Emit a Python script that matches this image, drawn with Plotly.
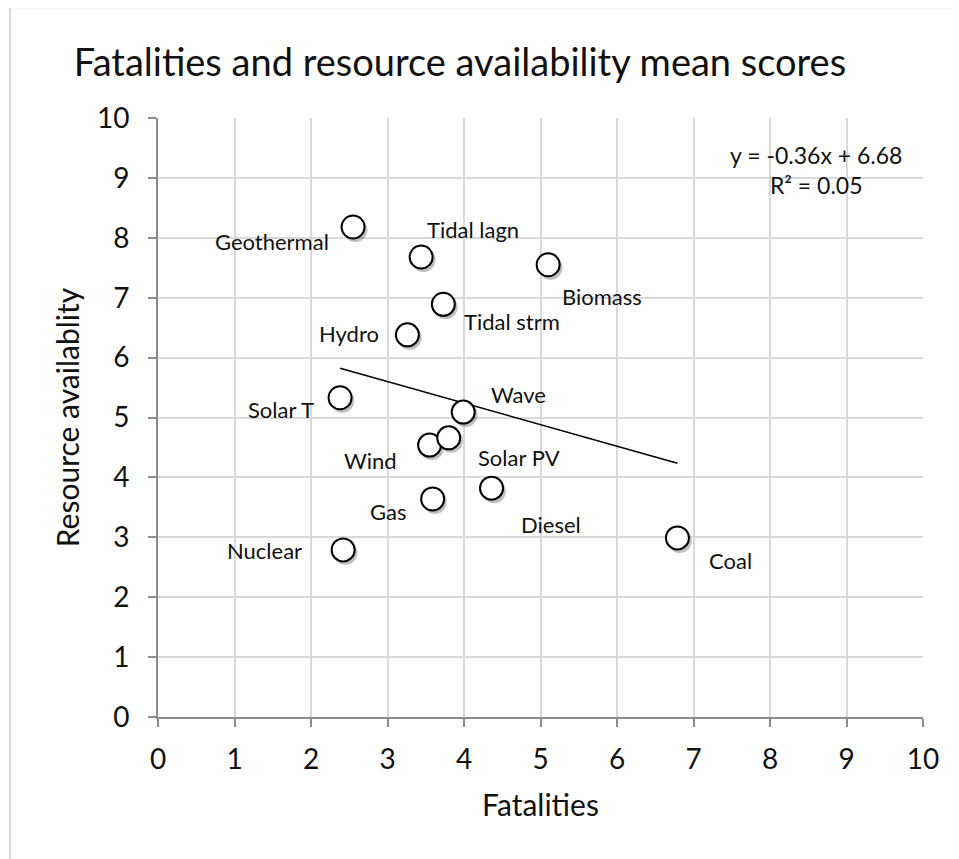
import plotly.graph_objects as go

# ---- data ----
names = ["Geothermal", "Tidal lagn", "Biomass", "Tidal strm", "Hydro", "Solar T",
         "Wave", "Wind", "Solar PV", "Gas", "Diesel", "Nuclear", "Coal"]
fatalities = [2.55, 3.44, 5.10, 3.73, 3.26, 2.38, 3.99, 3.55, 3.80, 3.59, 4.36, 2.42, 6.79]
resource = [8.18, 7.68, 7.55, 6.89, 6.38, 5.33, 5.09, 4.54, 4.66, 3.64, 3.82, 2.79, 2.99]
slope = -0.36
intercept = 6.68
r_squared = 0.05
x_ticks = list(range(0, 11))
y_ticks = list(range(0, 11))

# ---- label placement (style) ----
# (xanchor, xshift px, yshift px)
label_pos = {
    "Geothermal": ("right", -22, -14),
    "Tidal lagn": ("left", 4, 27),
    "Biomass": ("left", 12, -32),
    "Tidal strm": ("left", 19, -17),
    "Hydro": ("right", -26, 1),
    "Solar T": ("right", -24, -12),
    "Wave": ("left", 26, 18),
    "Wind": ("right", -31, -15),
    "Solar PV": ("left", 27, -20),
    "Gas": ("right", -25, -13),
    "Diesel": ("left", 27, -36),
    "Nuclear": ("right", -39, -1),
    "Coal": ("left", 30, -23),
}

FONT = "Lato"
TXT = "#111"
fig = go.Figure()

# trendline
xmin, xmax = min(fatalities), max(fatalities)
fig.add_trace(go.Scatter(
    x=[xmin, xmax], y=[slope * xmin + intercept, slope * xmax + intercept],
    mode="lines", showlegend=False, line=dict(color="black", width=1.5),
))
# shadow
fig.add_trace(go.Scatter(
    x=[v + 0.03 for v in fatalities], y=[v - 0.05 for v in resource],
    mode="markers", hoverinfo="skip", showlegend=False,
    marker=dict(size=24, color="rgba(0,0,0,0.25)", line=dict(width=0)),
))
# points
fig.add_trace(go.Scatter(
    x=fatalities, y=resource, mode="markers", text=names, showlegend=False,
    marker=dict(size=23, color="white", line=dict(color="black", width=2)),
))

for n, xv, yv in zip(names, fatalities, resource):
    anc, xs, ys = label_pos[n]
    fig.add_annotation(x=xv, y=yv, text=n, showarrow=False, xanchor=anc,
                       xshift=xs, yshift=ys, font=dict(family=FONT, size=22, color=TXT))

fig.add_annotation(x=0.975, y=0.965, xref="paper", yref="paper", showarrow=False,
                   text=f"y = {slope:.2f}x + {intercept:.2f}<br>R² = {r_squared:.2f}",
                   xanchor="right", yanchor="top", align="center",
                   font=dict(family=FONT, size=23, color=TXT))

# outer border (only top/left visible)
fig.add_shape(type="rect", xref="paper", yref="paper", x0=-0.1935, x1=1.2, y0=-0.5, y1=1.185,
              line=dict(color="#d9d9d9", width=2), fillcolor="rgba(0,0,0,0)", layer="below")

axis_common = dict(
    range=[0, 10], showgrid=True, gridcolor="#d9d9d9", gridwidth=1.5,
    showline=True, linecolor="#8c8c8c", linewidth=2, ticks="outside", ticklen=8,
    tickcolor="#8c8c8c", tickwidth=1.5, zeroline=False,
    tickfont=dict(family=FONT, size=28, color=TXT),
    title_font=dict(family=FONT, size=30, color=TXT),
)
fig.update_xaxes(**axis_common, tickvals=x_ticks, title_text="Fatalities", title_standoff=21,
                 ticklabelstandoff=8)
fig.update_yaxes(**axis_common, tickvals=y_ticks, title_text="Resource availablity",
                 title_standoff=8, ticklabelstandoff=13)

fig.update_layout(
    width=959, height=859,
    margin=dict(l=150, r=44, t=110, b=150),
    paper_bgcolor="white", plot_bgcolor="white",
    title=dict(text="Fatalities and resource availability mean scores", x=452 / 959,
               xanchor="center", xref="container",
               y=1 - 55 / 859, yanchor="middle", font=dict(family=FONT, size=38, color=TXT)),
)

fig.write_html("out.html")
